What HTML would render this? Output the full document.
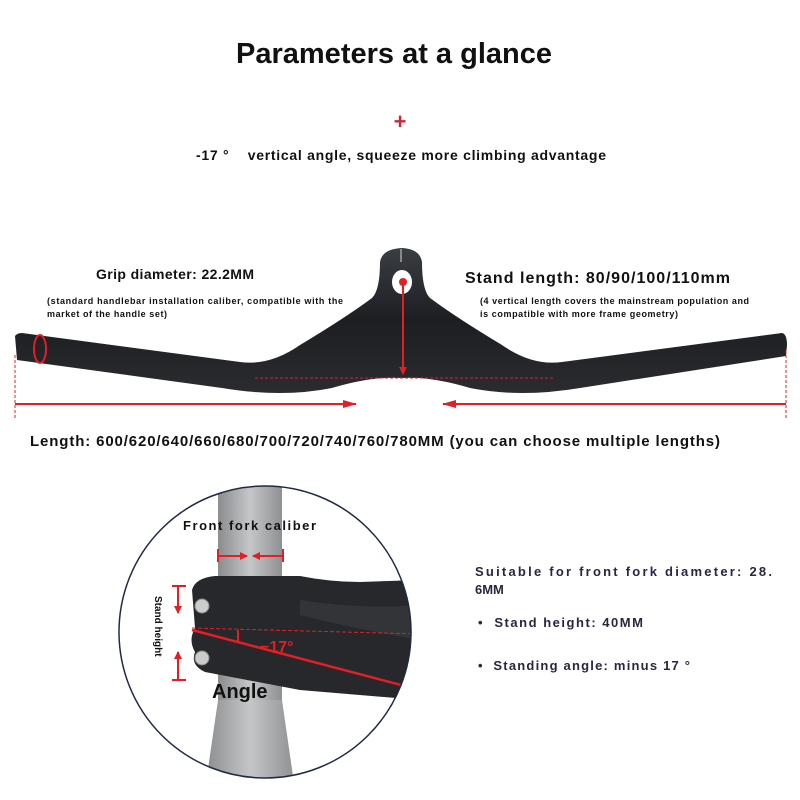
<!DOCTYPE html>
<html><head><meta charset="utf-8"><style>
body{margin:0;background:#fff}
svg{display:block}
text{font-family:"Liberation Sans",sans-serif;font-weight:bold}
</style></head><body>
<svg width="800" height="800" viewBox="0 0 800 800" xmlns="http://www.w3.org/2000/svg">
<defs>
<linearGradient id="bar" x1="0" y1="0" x2="0" y2="1"><stop offset="0" stop-color="#3a3d42"/><stop offset="0.5" stop-color="#1c1e22"/><stop offset="1" stop-color="#2a2c30"/></linearGradient>
<linearGradient id="tube" x1="0" y1="0" x2="1" y2="0"><stop offset="0" stop-color="#8a8c8e"/><stop offset="0.5" stop-color="#c4c6c8"/><stop offset="1" stop-color="#8e9092"/></linearGradient>
<clipPath id="cc"><circle cx="265" cy="632" r="146"/></clipPath>
<marker id="ar" markerUnits="userSpaceOnUse" markerWidth="14" markerHeight="8" refX="13" refY="4" orient="auto"><path d="M0,0 L14,4 L0,8z" fill="#e31e24"/></marker>
<marker id="as" markerUnits="userSpaceOnUse" markerWidth="8" markerHeight="8" refX="7" refY="4" orient="auto"><path d="M0,0 L8,4 L0,8z" fill="#e31e24"/></marker>
</defs>
<text x="394" y="63" font-size="29" text-anchor="middle" fill="#111">Parameters at a glance</text>
<text x="400" y="129" font-size="22" text-anchor="middle" fill="#c8283c" font-weight="normal">+</text>
<text x="196" y="160" font-size="14" fill="#111" textLength="410">-17 °&#160;&#160;&#160; vertical angle, squeeze more climbing advantage</text>

<!-- handlebar -->
<path d="M15,336 Q17,333 22,333 L240,362 Q270,366 300,345 Q345,318 372,298 Q380,290 380,262 Q382,249 402,248 Q420,249 422,262 Q422,290 430,298 Q457,318 502,345 Q532,366 562,362 L782,333 Q787,334 787,345 L786,356 L580,388 Q520,398 470,388 Q430,376 402,378 Q372,376 332,388 Q282,398 222,388 L17,360 Z" fill="url(#bar)"/>
<line x1="401" y1="249" x2="401" y2="262" stroke="#888" stroke-width="2"/>
<ellipse cx="402" cy="282" rx="10" ry="12" fill="#fff"/>
<circle cx="403" cy="282" r="4" fill="#e31e24"/>
<line x1="403" y1="282" x2="403" y2="374" stroke="#e31e24" stroke-width="2" marker-end="url(#as)"/>
<line x1="255" y1="378" x2="555" y2="378" stroke="#e31e24" stroke-width="1" stroke-dasharray="3,2"/>
<ellipse cx="40" cy="349" rx="6" ry="14" fill="none" stroke="#e31e24" stroke-width="2"/>
<line x1="15" y1="355" x2="15" y2="420" stroke="#e31e24" stroke-width="1" stroke-dasharray="3,2"/>
<line x1="786" y1="350" x2="786" y2="420" stroke="#e31e24" stroke-width="1" stroke-dasharray="3,2"/>
<line x1="15" y1="404" x2="356" y2="404" stroke="#e31e24" stroke-width="2" marker-end="url(#ar)"/>
<line x1="786" y1="404" x2="443" y2="404" stroke="#e31e24" stroke-width="2" marker-end="url(#ar)"/>

<text x="96" y="279" font-size="14" fill="#111" textLength="158">Grip diameter: 22.2MM</text>
<text x="47" y="304" font-size="9" fill="#111" textLength="296">(standard handlebar installation caliber, compatible with the</text>
<text x="47" y="317" font-size="9" fill="#111" textLength="120">market of the handle set)</text>
<text x="465" y="283" font-size="16" fill="#111" textLength="265">Stand length: 80/90/100/110mm</text>
<text x="480" y="304" font-size="9" fill="#111" textLength="269">(4 vertical length covers the mainstream population and</text>
<text x="480" y="317" font-size="9" fill="#111" textLength="198">is compatible with more frame geometry)</text>
<text x="30" y="446" font-size="15" fill="#111" textLength="690">Length: 600/620/640/660/680/700/720/740/760/780MM (you can choose multiple lengths)</text>

<!-- circle -->
<g clip-path="url(#cc)">
<rect x="218" y="470" width="64" height="320" fill="url(#tube)"/>
<path d="M218,700 L282,700 L295,790 L205,790 Z" fill="url(#tube)"/>
<path d="M192,590 Q195,578 215,576 L300,576 Q330,582 360,582 L420,580 L420,700 L300,690 L205,672 Q190,665 195,652 Q188,640 195,628 Z" fill="#26282c"/>
<path d="M300,600 Q360,610 420,605 L420,640 Q360,630 300,615Z" fill="#3a3c40" opacity="0.6"/>
<line x1="192" y1="628" x2="420" y2="634" stroke="#e31e24" stroke-width="1" stroke-dasharray="4,2"/>
<line x1="192" y1="630" x2="420" y2="690" stroke="#e31e24" stroke-width="2.5"/>
</g>
<circle cx="265" cy="632" r="146" fill="none" stroke="#1f2a44" stroke-width="1.5"/>
<circle cx="202" cy="606" r="7" fill="#ccc" stroke="#888"/>
<circle cx="202" cy="658" r="7" fill="#ccc" stroke="#888"/>
<line x1="238" y1="630" x2="238" y2="642" stroke="#e31e24" stroke-width="2"/>
<text x="260" y="652" font-size="16" fill="#e31e24" font-weight="normal">−17°</text>
<text x="183" y="530" font-size="13" fill="#111" textLength="133">Front fork caliber</text>
<g stroke="#e31e24" stroke-width="2">
<line x1="218" y1="549" x2="218" y2="562"/><line x1="283" y1="549" x2="283" y2="562"/>
<line x1="218" y1="556" x2="247" y2="556" marker-end="url(#as)"/><line x1="283" y1="556" x2="253" y2="556" marker-end="url(#as)"/>
<line x1="172" y1="586" x2="186" y2="586"/><line x1="178" y1="586" x2="178" y2="613" marker-end="url(#as)"/>
<line x1="172" y1="680" x2="186" y2="680"/><line x1="178" y1="680" x2="178" y2="652" marker-end="url(#as)"/>
</g>
<text transform="translate(155,596) rotate(90)" font-size="10" fill="#111">Stand height</text>
<text x="212" y="698" font-size="20" fill="#111">Angle</text>

<g fill="#2a2540" font-size="13">
<text x="475" y="576" textLength="297">Suitable for front fork diameter: 28.</text>
<text x="475" y="594">6MM</text>
<text x="478" y="627" textLength="165">•&#160; Stand height: 40MM</text>
<text x="478" y="670" textLength="212">•&#160; Standing angle: minus 17 °</text>
</g>
</svg>
</body></html>
